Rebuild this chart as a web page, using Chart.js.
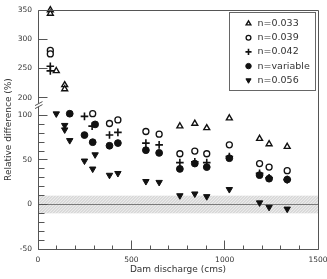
<!DOCTYPE html>
<html>
<head>
<meta charset="utf-8">
<script src="https://cdn.jsdelivr.net/npm/chart.js@4.4.1/dist/chart.umd.min.js"></script>
<style>
  html, body { margin: 0; padding: 0; background: #fff; }
</style>
</head>
<body>
<canvas id="chart" width="327" height="279"></canvas>
<script>
// Relative difference (%) vs dam discharge (cms) for each Manning's n run
const seriesNames = ["n=0.033", "n=0.039", "n=0.042", "n=variable", "n=0.056"];

const q033 = [66, 66, 98, 143, 143, 760, 840, 904, 1025, 1187, 1238, 1335];
const d033 = [350, 344, 246, 222, 215, 88, 91, 86, 97, 74, 68, 65];

const q039 = [66, 66, 293, 383, 428, 578, 649, 760, 840, 904, 1025, 1187, 1238, 1335];
const d039 = [281, 275, 102, 91, 95, 82, 79, 57, 60, 57, 67, 46, 42, 38];

const q042 = [66, 66, 249, 290, 383, 428, 578, 649, 760, 840, 904, 1025, 1187, 1238, 1335];
const d042 = [254, 246, 99, 88, 78, 81, 69, 67, 47, 48, 47, 54, 35, 30, 28];

const qVar = [170, 249, 293, 306, 383, 428, 578, 649, 760, 840, 904, 1025, 1187, 1238, 1335];
const dVar = [102, 78, 70, 90, 66, 69, 61, 58, 40, 46, 42, 52, 33, 29, 28];

const q056 = [98, 143, 143, 170, 249, 293, 306, 383, 428, 578, 649, 760, 840, 904, 1025, 1187, 1238, 1335];
const d056 = [102, 89, 84, 72, 49, 40, 56, 33, 35, 26, 25, 10, 12, 9, 17, 2, -3, -5];

// tick labels
const xTicks = [0, 500, 1000, 1500];
const yTopTicks = [200, 250, 300, 350];
const yBotTicks = [-50, 0, 50, 100];

const allQ = [q033, q039, q042, qVar, q056];
const allD = [d033, d039, d042, dVar, d056];

// marker look for each series
const markers = [
  { pointStyle: "triangle", rotation: 0, radius: 3.4, fill: "#fff", width: 1.4, order: 2 },
  { pointStyle: "circle", rotation: 0, radius: 3, fill: "#fff", width: 1.3, order: 3 },
  { pointStyle: "cross", rotation: 0, radius: 3.8, fill: "#111", width: 1.6, order: 4 },
  { pointStyle: "circle", rotation: 0, radius: 3.4, fill: "#111", width: 1, order: 1 },
  { pointStyle: "triangle", rotation: 180, radius: 3.7, fill: "#111", width: 1, order: 5 },
];

const SPLIT = 150; // values above this go on the upper (broken) part of the axis
const font = "'DejaVu Sans', sans-serif";
const textColor = "#333";
const axisColor = "#555";

function makePoints(qs, ds, top) {
  return qs
    .map((q, i) => ({ x: q, y: ds[i] }))
    .filter((p) => (top ? p.y > SPLIT : p.y <= SPLIT));
}

const datasets = [];
seriesNames.forEach((name, i) => {
  const m = markers[i];
  [false, true].forEach((top) => {
    const data = makePoints(allQ[i], allD[i], top);
    if (!data.length) return;
    datasets.push({
      label: name,
      data: data,
      yAxisID: top ? "yTop" : "yBot",
      showLine: false,
      pointStyle: m.pointStyle,
      rotation: m.rotation,
      pointRadius: m.radius,
      pointHoverRadius: m.radius,
      backgroundColor: m.fill,
      borderColor: "#111",
      borderWidth: m.width,
      order: m.order,
      clip: false,
    });
  });
});

function crisp(v) {
  return Math.floor(v) + 0.5;
}

function line(ctx, x1, y1, x2, y2) {
  ctx.beginPath();
  ctx.moveTo(x1, y1);
  ctx.lineTo(x2, y2);
  ctx.stroke();
}

// hatched +-10% band, axes frame with the break, legend and y title
const decor = {
  id: "decor",
  beforeDatasetsDraw(chart) {
    const { ctx, chartArea } = chart;
    const yb = chart.scales.yBot;
    const y1 = yb.getPixelForValue(10);
    const y2 = yb.getPixelForValue(-10);
    ctx.save();
    ctx.fillStyle = "#ebebeb";
    ctx.fillRect(chartArea.left, y1, chartArea.right - chartArea.left, y2 - y1);
    ctx.beginPath();
    ctx.rect(chartArea.left, y1, chartArea.right - chartArea.left, y2 - y1);
    ctx.clip();
    ctx.strokeStyle = "#c2c2c2";
    ctx.lineWidth = 0.8;
    for (let x = chartArea.left - 30; x < chartArea.right + 30; x += 3) {
      line(ctx, x, y2, x + (y2 - y1), y1);
    }
    ctx.restore();
    ctx.save();
    ctx.strokeStyle = "#7a7a7a";
    ctx.lineWidth = 1.2;
    const y0 = yb.getPixelForValue(0);
    line(ctx, chartArea.left, y0, chartArea.right, y0);
    ctx.restore();
  },
  afterDatasetsDraw(chart) {
    const { ctx, chartArea } = chart;
    const xs = chart.scales.x;
    const yt = chart.scales.yTop;
    const yb = chart.scales.yBot;
    const L = crisp(chartArea.left);
    const R = crisp(chartArea.right);
    const T = crisp(chartArea.top);
    const B = crisp(chartArea.bottom);

    ctx.save();
    ctx.strokeStyle = axisColor;
    ctx.lineWidth = 1;
    // frame
    line(ctx, L, T, R, T);
    line(ctx, R, T, R, B);
    line(ctx, L, B, R, B);
    // left axis with a gap for the break
    const gapTop = yt.bottom - 3;
    const gapBot = yt.bottom;
    line(ctx, L, T, L, gapTop);
    line(ctx, L, gapBot, L, B);
    // break marks
    line(ctx, L - 3.5, gapTop + 2, L + 4, gapTop - 2);
    line(ctx, L - 3.5, gapBot + 2, L + 4, gapBot - 2);

    // y ticks, pointing inward
    yTopTicks.forEach((v) => {
      const y = crisp(yt.getPixelForValue(v));
      line(ctx, L, y, L + 9, y);
    });
    for (let v = -50; v <= 100; v += 10) {
      const y = crisp(yb.getPixelForValue(v));
      line(ctx, L, y, L + (v % 50 === 0 ? 9 : 6), y);
    }
    // x ticks
    for (let v = 0; v <= 1500; v += 100) {
      const x = crisp(xs.getPixelForValue(v));
      line(ctx, x, B, x, B - (v % 500 === 0 ? 9 : 4));
    }
    ctx.restore();

    // legend
    const box = { left: 229.5, top: 12.5, right: 315.5, bottom: 90.5 };
    ctx.save();
    ctx.fillStyle = "#fff";
    ctx.fillRect(box.left, box.top, box.right - box.left, box.bottom - box.top);
    ctx.strokeStyle = "#666";
    ctx.lineWidth = 1;
    ctx.strokeRect(box.left, box.top, box.right - box.left, box.bottom - box.top);
    ctx.font = "9.5px " + font;
    ctx.textBaseline = "middle";
    ctx.textAlign = "left";
    seriesNames.forEach((name, i) => {
      const m = markers[i];
      const y = 23.5 + i * 14.2;
      ctx.fillStyle = m.fill;
      ctx.strokeStyle = "#111";
      ctx.lineWidth = m.width;
      Chart.helpers.drawPoint(ctx, {
        pointStyle: m.pointStyle,
        rotation: m.rotation,
        radius: m.radius * 0.8,
        borderWidth: m.width,
      }, 248.5, y);
      ctx.fillStyle = textColor;
      ctx.fillText(name, 257.5, y);
    });
    ctx.restore();

    // y axis title
    ctx.save();
    ctx.translate(9, (chartArea.top + chartArea.bottom) / 2);
    ctx.rotate(-Math.PI / 2);
    ctx.font = "9px " + font;
    ctx.fillStyle = textColor;
    ctx.textAlign = "center";
    ctx.textBaseline = "middle";
    ctx.fillText("Relative difference (%)", 0, 0);
    ctx.restore();
  },
};

const tickFont = { family: font, size: 7.5 };

function yAxis(min, max, weight, ticks) {
  return {
    type: "linear",
    position: "left",
    stack: "y",
    stackWeight: weight,
    min: min,
    max: max,
    grid: { display: false, drawTicks: false },
    border: { display: false },
    ticks: { font: tickFont, color: textColor, padding: 6, callback: (v) => String(v) },
    afterBuildTicks: (s) => {
      s.ticks = ticks.map((v) => ({ value: v }));
    },
    afterFit: (s) => {
      s.width = 38;
      s.paddingTop = 0;
      s.paddingBottom = 0;
    },
  };
}

new Chart(document.getElementById("chart"), {
  type: "scatter",
  data: { datasets: datasets },
  options: {
    responsive: false,
    animation: false,
    devicePixelRatio: 1,
    layout: { padding: { top: 10, right: 9, left: 0, bottom: 0 } },
    plugins: { legend: { display: false }, tooltip: { enabled: false } },
    scales: {
      x: {
        type: "linear",
        min: 0,
        max: 1500,
        grid: { display: false, drawTicks: false },
        border: { display: false },
        ticks: {
          font: tickFont,
          color: textColor,
          padding: 6.5,
          maxRotation: 0,
          autoSkip: false,
          callback: (v) => String(v),
        },
        afterBuildTicks: (s) => {
          s.ticks = xTicks.map((v) => ({ value: v }));
        },
        title: {
          display: true,
          text: "Dam discharge (cms)",
          font: { family: font, size: 9 },
          color: textColor,
          padding: { top: 0, bottom: 3.6 },
        },
        afterFit: (s) => {
          s.height = 30;
          s.paddingLeft = 0;
          s.paddingRight = 0;
        },
      },
      // the stack is laid out from the last listed axis downward
      yBot: yAxis(-50, 110, 141.9, yBotTicks),
      yTop: yAxis(185, 350, 96.25, yTopTicks),
    },
  },
  plugins: [decor],
});
</script>
</body>
</html>
